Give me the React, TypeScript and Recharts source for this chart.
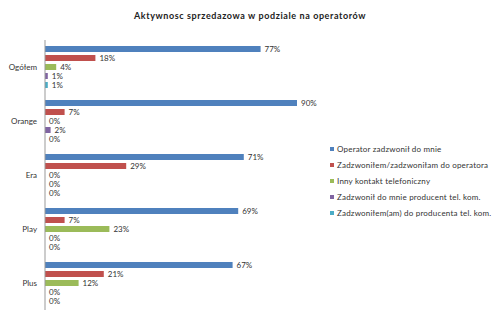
import { BarChart, Bar, XAxis, YAxis, LabelList, Legend } from 'recharts';

const operators = ['Ogółem', 'Orange', 'Era', 'Play', 'Plus'];
const seriesNames = [
  'Operator zadzwonił do mnie',
  'Zadzwoniłem/zadzwoniłam do operatora',
  'Inny kontakt telefoniczny',
  'Zadzwonił do mnie producent tel. kom.',
  'Zadzwoniłem(am) do producenta tel. kom.',
];
const operatorCalled = [77, 90, 71, 69, 67];
const iCalledOperator = [18, 7, 29, 7, 21];
const otherContact = [4, 0, 0, 23, 12];
const producerCalled = [1, 2, 0, 0, 0];
const iCalledProducer = [1, 0, 0, 0, 0];
const colors = ['#4f81bd', '#c0504d', '#9bbb59', '#8064a2', '#4bacc6'];

const data = operators.map((name, i) => ({
  name,
  s0: operatorCalled[i],
  s1: iCalledOperator[i],
  s2: otherContact[i],
  s3: producerCalled[i],
  s4: iCalledProducer[i],
}));

const font = 'Lato, "Liberation Sans", sans-serif';

function LegendBox() {
  return (
    <div style={{ fontFamily: font, fontSize: 8, color: '#333', letterSpacing: 0.2 }}>
      {seriesNames.map((n, i) => (
        <div key={n} style={{ display: 'flex', alignItems: 'center', height: 16, whiteSpace: 'nowrap' }}>
          <span style={{ width: 4, height: 4, background: colors[i], marginRight: 3 }} />
          {n}
        </div>
      ))}
    </div>
  );
}

export default function App() {
  return (
    <div style={{ position: 'absolute', left: 0, top: 0, width: 500, height: 320, background: '#fff' }}>
      <div
        style={{
          position: 'absolute',
          top: 10,
          left: 0,
          width: 500,
          textAlign: 'center',
          fontFamily: font,
          fontWeight: 'bold',
          fontSize: 9,
          letterSpacing: 0.6,
          color: '#222',
        }}
      >
        Aktywnosc sprzedazowa w podziale na operatorów
      </div>
      <BarChart
        width={500}
        height={320}
        data={data}
        layout="vertical"
        margin={{ top: 40, right: 5, left: 0, bottom: 10 }}
        barCategoryGap={10}
        barGap={3}
      >
        <XAxis type="number" domain={[0, 100]} hide />
        <YAxis
          type="category"
          dataKey="name"
          width={45}
          tickLine={false}
          axisLine={{ stroke: '#999' }}
          tick={{ fontSize: 8, fill: '#333', fontFamily: font }}
        />
        <Legend
          layout="vertical"
          align="right"
          verticalAlign="middle"
          width={170}
          wrapperStyle={{ top: 141, left: 330 }}
          content={() => <LegendBox />}
        />
        {['s0', 's1', 's2', 's3', 's4'].map((k, i) => (
          <Bar
            key={k}
            dataKey={k}
            name={seriesNames[i]}
            fill={colors[i]}
            barSize={6}
            minPointSize={0.01}
            isAnimationActive={false}
          >
            <LabelList
              dataKey={k}
              position="right"
              offset={4}
              formatter={(v: any) => `${v}%`}
              style={{ fontSize: 8, fill: '#333', fontFamily: font }}
            />
          </Bar>
        ))}
      </BarChart>
    </div>
  );
}
